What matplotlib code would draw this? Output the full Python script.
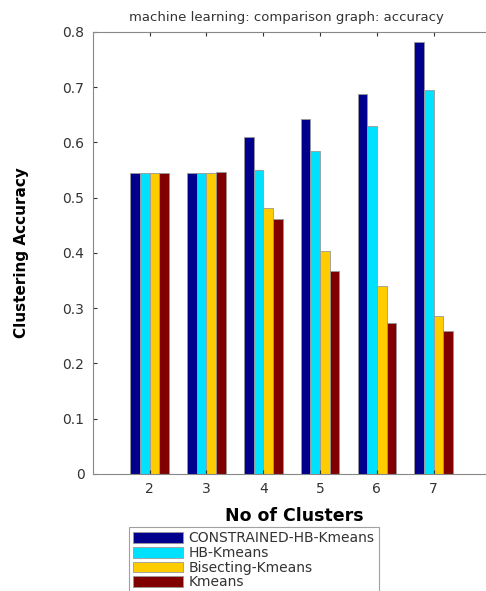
import numpy as np
import matplotlib.pyplot as plt

clusters = [2, 3, 4, 5, 6, 7]
constrained = [0.544, 0.544, 0.609, 0.643, 0.688, 0.781]
hb_kmeans = [0.544, 0.544, 0.551, 0.585, 0.630, 0.694]
bisecting = [0.544, 0.544, 0.481, 0.404, 0.341, 0.286]
kmeans = [0.544, 0.546, 0.461, 0.368, 0.274, 0.259]

names = ['CONSTRAINED-HB-Kmeans', 'HB-Kmeans', 'Bisecting-Kmeans', 'Kmeans']
colors = ['#00008C', '#00E0FF', '#FFCC00', '#800000']

fig = plt.figure(figsize=(4.86, 5.91), dpi=100)
ax = fig.add_axes([0.191, 0.198, 0.83, 0.748])

x = np.array(clusters)
w = 0.17
series = [constrained, hb_kmeans, bisecting, kmeans]
for i, vals in enumerate(series):
    ax.bar(x + (i - 1.5) * w, vals, w, color=colors[i], edgecolor='#999999',
           linewidth=0.6, label=names[i])

ax.set_xlim(1.0, 8.1)
ax.set_ylim(0, 0.8)
ax.set_xticks(clusters)
ax.set_yticks(np.arange(0, 0.81, 0.1))
ax.set_yticklabels(['0', '0.1', '0.2', '0.3', '0.4', '0.5', '0.6', '0.7', '0.8'])
ax.tick_params(direction='in', length=3, labelsize=10, colors='#333333',
               top=True, right=True, pad=6)
for s in ax.spines.values():
    s.set_color('#888888')

ax.set_title('machine learning: comparison graph: accuracy', fontsize=9.5,
             color='#333333', pad=8, x=0.48)
ax.set_xlabel('No of Clusters', fontsize=12.5, fontweight='bold', labelpad=8)
ax.set_ylabel('Clustering Accuracy', fontsize=11, fontweight='bold',
              labelpad=24)

leg = fig.legend(loc='upper left', bbox_to_anchor=(0.265, 0.108), fontsize=10,
                 frameon=True, fancybox=False, handlelength=3.6, handleheight=0.8,
                 labelspacing=0.05, borderpad=0.3, handletextpad=0.4,
                 borderaxespad=0)
leg.get_frame().set_edgecolor('#888888')
leg.get_frame().set_linewidth(0.8)
for t in leg.get_texts():
    t.set_color('#333333')

fig.savefig('out.png', dpi=100)
